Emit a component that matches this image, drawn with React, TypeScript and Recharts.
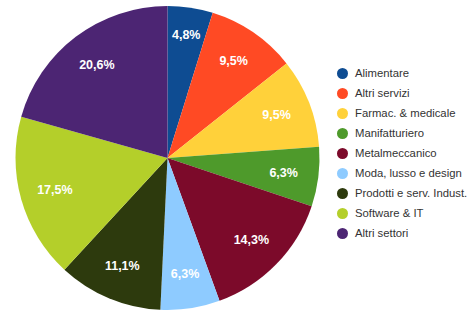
import React from 'react';
import { PieChart, Pie, Cell, Legend } from 'recharts';

const categories = [
  'Alimentare',
  'Altri servizi',
  'Farmac. & medicale',
  'Manifatturiero',
  'Metalmeccanico',
  'Moda, lusso e design',
  'Prodotti e serv. Indust.',
  'Software & IT',
  'Altri settori',
];
const values = [4.8, 9.5, 9.5, 6.3, 14.3, 6.3, 11.1, 17.5, 20.6];
const colors = [
  '#0E4C92',
  '#FF4A24',
  '#FFD13A',
  '#4E9A2B',
  '#7C0A2A',
  '#8ECBFF',
  '#2D3A0D',
  '#B4CF2A',
  '#4C2573',
];

const data = categories.map((name, i) => ({ name, value: values[i] }));

const RAD = Math.PI / 180;

const renderLabel = (props: any) => {
  const { cx, cy, midAngle, outerRadius, value, percent } = props;
  const r = outerRadius * (percent < 0.05 ? 0.82 : 0.77);
  const x = cx + r * Math.cos(-midAngle * RAD);
  const y = cy + r * Math.sin(-midAngle * RAD);
  return (
    <text
      x={x}
      y={y}
      fill="#ffffff"
      textAnchor="middle"
      dominantBaseline="central"
      fontFamily="'Liberation Sans', Arial, sans-serif"
      fontWeight="bold"
      fontSize={12.5}
    >
      {String(value).replace('.', ',') + '%'}
    </text>
  );
};

const renderLegend = () => (
  <div style={{ fontFamily: "'Liberation Sans', Arial, sans-serif", fontSize: 11.3, color: '#333' }}>
    {categories.map((c, i) => (
      <div key={c} style={{ height: 20, display: 'flex', alignItems: 'center' }}>
        <span
          style={{
            display: 'inline-block',
            flexShrink: 0,
            width: 11,
            height: 11,
            borderRadius: '50%',
            background: colors[i],
            marginRight: 7,
          }}
        />
        <span style={{ whiteSpace: 'nowrap' }}>{c}</span>
      </div>
    ))}
  </div>
);

export default function App() {
  return (
    <div style={{ position: 'absolute', left: 0, top: 0, width: 471, height: 323, background: '#fff' }}>
      <PieChart width={471} height={323} margin={{ top: 0, right: 0, bottom: 0, left: 0 }}>
        <Pie
          data={data}
          dataKey="value"
          nameKey="name"
          cx={167.5}
          cy={158}
          outerRadius={152}
          startAngle={90}
          endAngle={-270}
          stroke="none"
          label={renderLabel}
          labelLine={false}
          isAnimationActive={false}
        >
          {data.map((d, i) => (
            <Cell key={d.name} fill={colors[i]} />
          ))}
        </Pie>
        <Legend
          content={renderLegend}
          wrapperStyle={{ position: 'absolute', left: 337, top: 63, width: 134 }}
        />
      </PieChart>
    </div>
  );
}
